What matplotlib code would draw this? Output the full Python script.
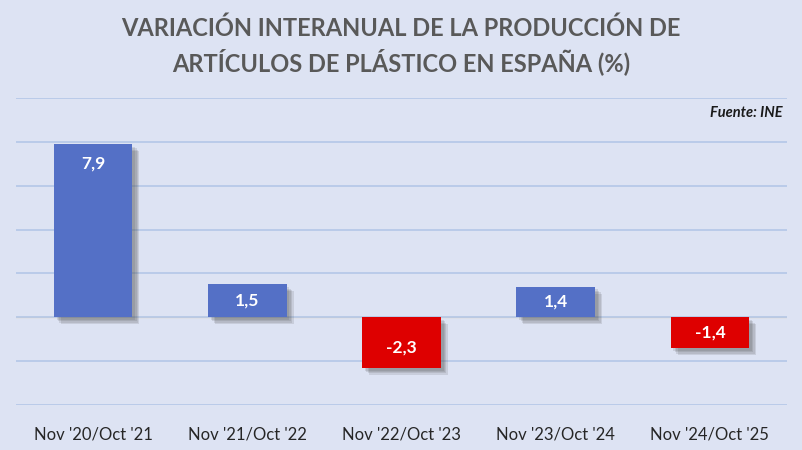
import matplotlib
matplotlib.use('Agg')
import matplotlib.pyplot as plt
import matplotlib.patheffects as pe

plt.rcParams['font.family'] = ['Lato', 'DejaVu Sans']

periods = ["Nov '20/Oct '21", "Nov '21/Oct '22", "Nov '22/Oct '23",
           "Nov '23/Oct '24", "Nov '24/Oct '25"]
variation = [7.9, 1.5, -2.3, 1.4, -1.4]
value_labels = ['7,9', '1,5', '-2,3', '1,4', '-1,4']

bg = '#DDE3F3'
blue = '#5470C6'
red = '#DE0000'

fig = plt.figure(figsize=(8.02, 4.5), dpi=100, facecolor=bg)
ax = fig.add_axes([16 / 802, 0.1, (787 - 16) / 802, 0.682])
ax.set_facecolor(bg)

colors = [blue if v >= 0 else red for v in variation]
x = list(range(len(variation)))
bars = ax.bar(x, variation, width=0.51, color=colors, zorder=3)
# soft shadow: a few offset copies with low alpha
shadow = [pe.SimplePatchShadow(offset=(o, -o), shadow_rgbFace='#404040', alpha=0.13)
          for o in (5, 4, 3, 2)]
for b in bars:
    b.set_path_effects(shadow + [pe.Normal()])

# value labels inside the bars
for xi, v, lab in zip(x, variation, value_labels):
    sign = 1 if v >= 0 else -1
    y = v - sign * min(0.9, abs(v) / 2)
    ax.text(xi, y, lab, ha='center', va='center', color='white',
            fontsize=12.5, fontweight='bold', zorder=4)

ax.set_ylim(-4, 10)
ax.set_xlim(-0.5, len(variation) - 0.5)
ax.set_yticks(range(-4, 11, 2))
ax.yaxis.grid(True, color='#B4C7E7', linewidth=1.2, zorder=0)
ax.axhline(0, color='#E2D6C4', linewidth=1.0, zorder=1)
ax.tick_params(axis='y', left=False, labelleft=False)
ax.tick_params(axis='x', bottom=False, pad=12, labelsize=12, labelcolor='#262626')
ax.set_xticks(x)
ax.set_xticklabels(periods)
for s in ax.spines.values():
    s.set_visible(False)

fig.text(0.5, 1 - 28 / 450, 'VARIACIÓN INTERANUAL DE LA PRODUCCIÓN DE',
         ha='center', va='center', fontsize=17, fontweight='bold', color='#595959')
fig.text(0.5, 1 - 62 / 450, 'ARTÍCULOS DE PLÁSTICO EN ESPAÑA (%)',
         ha='center', va='center', fontsize=17, fontweight='bold', color='#595959')
fig.text(783 / 802, 1 - 113 / 450, 'Fuente: INE', ha='right', va='center',
         fontsize=10.5, fontweight='bold', fontstyle='italic', color='#1a1a1a')

fig.savefig('out.png', dpi=100, facecolor=bg)
